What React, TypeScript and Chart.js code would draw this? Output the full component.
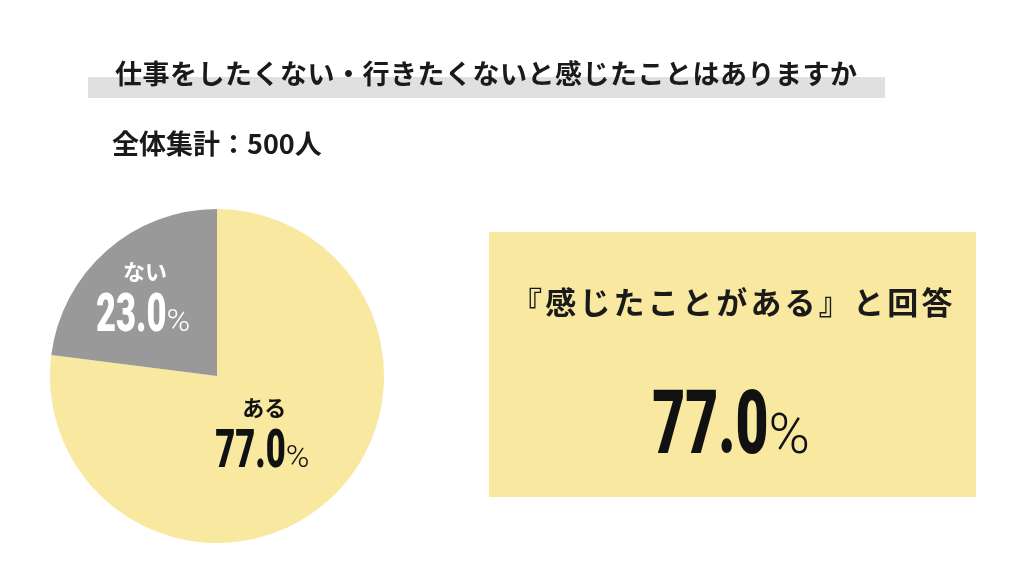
import React, { useRef, useEffect } from 'react';
import Chart from 'chart.js/auto';

// データ
const answers = ['ある', 'ない'];
const percents = [77.0, 23.0];
const sliceColors = ['#F9E8A0', '#999999'];
const labelColors = ['#111111', '#ffffff'];
const labelRadius = [0.41, 0.67];

const titleText = '仕事をしたくない・行きたくないと感じたことはありますか';
const totalText = '全体集計：500人';
const boxText = '『感じたことがある』と回答';

const JP = '"Noto Sans CJK JP", "Noto Sans", sans-serif';

// 縦長の数字 + 細い「%」
function drawPct(ctx: CanvasRenderingContext2D, num: string, cx: number, cy: number, size: number, pctSize: number, gap: number, color: string) {
  const squeeze = 0.64;
  ctx.save();
  ctx.fillStyle = color;
  ctx.textBaseline = 'alphabetic';
  ctx.textAlign = 'left';
  ctx.font = `900 ${size}px Roboto`;
  const w = ctx.measureText(num).width * squeeze;
  ctx.font = `300 ${pctSize}px Roboto`;
  const pw = ctx.measureText('%').width;
  const x0 = cx - (w + gap + pw) / 2;
  const base = cy + size * 0.711 / 2;
  ctx.save();
  ctx.translate(x0, base);
  ctx.scale(squeeze, 1);
  ctx.font = `900 ${size}px Roboto`;
  ctx.fillText(num, 0, 0);
  ctx.restore();
  ctx.font = `300 ${pctSize}px Roboto`;
  ctx.fillText('%', x0 + w + gap, base);
  ctx.restore();
}

const pageDecor = {
  id: 'pageDecor',
  beforeDraw(chart: any) {
    const ctx = chart.ctx as CanvasRenderingContext2D;
    ctx.save();
    ctx.fillStyle = '#ffffff';
    ctx.fillRect(0, 0, chart.width, chart.height);

    // タイトル
    ctx.fillStyle = '#E0E0E0';
    ctx.fillRect(88, 77, 797, 21);
    ctx.fillStyle = '#1a1a1a';
    ctx.textBaseline = 'middle';
    ctx.textAlign = 'left';
    ctx.font = `700 27px ${JP}`;
    (ctx as any).letterSpacing = '0.5px';
    ctx.fillText(titleText, 115, 74);
    (ctx as any).letterSpacing = '0px';
    ctx.fillText(totalText, 112, 144);

    // 右側のボックス
    ctx.fillStyle = sliceColors[0];
    ctx.fillRect(489, 232, 487, 265);
    ctx.fillStyle = '#1a1a1a';
    ctx.textAlign = 'left';
    ctx.font = `700 31px ${JP}`;
    (ctx as any).letterSpacing = '3.2px';
    ctx.fillText(boxText, 511, 302);
    (ctx as any).letterSpacing = '0px';
    ctx.restore();

    drawPct(ctx, percents[0].toFixed(1), 731, 421, 89, 56, 0, '#111111');
  },
};

const pieLabels = {
  id: 'pieLabels',
  afterDatasetsDraw(chart: any) {
    const ctx = chart.ctx as CanvasRenderingContext2D;
    const meta = chart.getDatasetMeta(0);
    meta.data.forEach((arc: any, i: number) => {
      const { x, y, startAngle, endAngle, outerRadius } = arc.getProps(['x', 'y', 'startAngle', 'endAngle', 'outerRadius'], true);
      const mid = (startAngle + endAngle) / 2;
      const r = outerRadius * labelRadius[i];
      const cx = x + Math.cos(mid) * r;
      const cy = y + Math.sin(mid) * r;
      ctx.save();
      ctx.fillStyle = labelColors[i];
      ctx.textAlign = 'center';
      ctx.textBaseline = 'middle';
      ctx.font = `700 22px ${JP}`;
      ctx.fillText(answers[i], cx + 2, cy - 20);
      ctx.restore();
      drawPct(ctx, percents[i].toFixed(1), cx, cy + 20, 54, 32, 0, labelColors[i]);
    });
  },
};

const App: React.FC = () => {
  const canvasRef = useRef<HTMLCanvasElement>(null);
  const chartRef = useRef<Chart | null>(null);

  useEffect(() => {
    if (!canvasRef.current) return;
    if (chartRef.current) chartRef.current.destroy();

    chartRef.current = new Chart(canvasRef.current, {
      type: 'pie',
      data: {
        labels: answers,
        datasets: [{
          data: percents,
          backgroundColor: sliceColors,
          borderWidth: 0,
        }],
      },
      options: {
        responsive: true,
        maintainAspectRatio: false,
        animation: false,
        layout: { padding: { left: 50, top: 209, right: 640, bottom: 27 } },
        plugins: {
          legend: { display: false },
          tooltip: { enabled: false },
        },
      },
      plugins: [pageDecor, pieLabels],
    });

    return () => {
      if (chartRef.current) {
        chartRef.current.destroy();
        chartRef.current = null;
      }
    };
  }, []);

  return (
    <div style={{ position: 'absolute', left: 0, top: 0, width: 1024, height: 570, background: '#fff' }}>
      <canvas ref={canvasRef} />
    </div>
  );
};

export default App;
